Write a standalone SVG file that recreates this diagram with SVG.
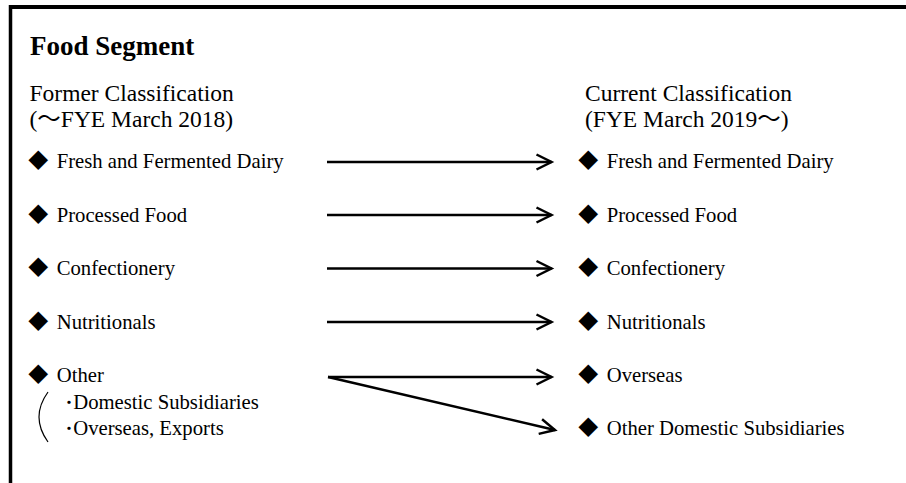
<svg xmlns="http://www.w3.org/2000/svg" width="906" height="483" viewBox="0 0 906 483">
<defs>
<style>
.t{font-family:"Liberation Serif","Noto Sans CJK JP",serif;fill:#000}
.title{font-size:27px;font-weight:bold}
.hd{font-size:23.5px}
.it{font-size:20.7px}
.dm{font-family:"Noto Sans CJK JP","DejaVu Sans",sans-serif;font-size:20px;fill:#000;text-anchor:middle}
.dot{font-family:"Noto Sans CJK JP",sans-serif;font-size:17px;font-weight:bold}
.ln{stroke:#000;stroke-width:2.5;fill:none}
</style>
<marker id="ah" viewBox="0 0 20 20" refX="17" refY="10" markerWidth="20" markerHeight="20" markerUnits="userSpaceOnUse" orient="auto">
<path d="M2 2.5 L17 10 L2 17.5" fill="none" stroke="#000" stroke-width="2.5"/>
</marker>
</defs>
<rect width="906" height="483" fill="#fff"/>
<g id="frame">
<line x1="10.5" y1="7" x2="906" y2="7" stroke="#000" stroke-width="4"/>
<line x1="10.5" y1="5" x2="10.5" y2="483" stroke="#000" stroke-width="3.5"/>
</g>
<g id="title"><text class="t title" x="30" y="54.5">Food Segment</text></g>
<g id="former-header">
<text class="t hd" x="29.5" y="101">Former Classification</text>
<text class="t hd" x="29.5" y="127">(～FYE March 2018)</text>
</g>
<g id="current-header">
<text class="t hd" x="585" y="101">Current Classification</text>
<text class="t hd" x="585" y="127">(FYE March 2019～)</text>
</g>
<g id="old-dairy"><text class="dm" x="38.3" y="168">◆</text><text class="t it" x="56.7" y="168">Fresh and Fermented Dairy</text></g>
<g id="old-processed"><text class="dm" x="38.3" y="221.5">◆</text><text class="t it" x="56.7" y="221.5">Processed Food</text></g>
<g id="old-confectionery"><text class="dm" x="38.3" y="275">◆</text><text class="t it" x="56.7" y="275">Confectionery</text></g>
<g id="old-nutritionals"><text class="dm" x="38.3" y="328.5">◆</text><text class="t it" x="56.7" y="328.5">Nutritionals</text></g>
<g id="old-other">
<text class="dm" x="38.3" y="382">◆</text><text class="t it" x="56.7" y="382">Other</text>
<path d="M48 392 Q30 417 48 442" fill="none" stroke="#000" stroke-width="1.2"/>
<text class="t it" x="64.7" y="408.5"><tspan class="dot">･</tspan>Domestic Subsidiaries</text>
<text class="t it" x="64.7" y="435"><tspan class="dot">･</tspan>Overseas, Exports</text>
</g>
<g id="new-dairy"><text class="dm" x="588.3" y="168">◆</text><text class="t it" x="606.7" y="168">Fresh and Fermented Dairy</text></g>
<g id="new-processed"><text class="dm" x="588.3" y="221.5">◆</text><text class="t it" x="606.7" y="221.5">Processed Food</text></g>
<g id="new-confectionery"><text class="dm" x="588.3" y="275">◆</text><text class="t it" x="606.7" y="275">Confectionery</text></g>
<g id="new-nutritionals"><text class="dm" x="588.3" y="328.5">◆</text><text class="t it" x="606.7" y="328.5">Nutritionals</text></g>
<g id="new-overseas"><text class="dm" x="588.3" y="382">◆</text><text class="t it" x="606.7" y="382">Overseas</text></g>
<g id="new-other-domestic"><text class="dm" x="588.3" y="435">◆</text><text class="t it" x="606.7" y="435">Other Domestic Subsidiaries</text></g>
<g id="connectors">
<line class="ln" x1="327" y1="162" x2="551.5" y2="162" marker-end="url(#ah)"/>
<line class="ln" x1="327" y1="215" x2="551.5" y2="215" marker-end="url(#ah)"/>
<line class="ln" x1="327" y1="268.5" x2="551.5" y2="268.5" marker-end="url(#ah)"/>
<line class="ln" x1="327" y1="322" x2="551.5" y2="322" marker-end="url(#ah)"/>
<line class="ln" x1="328" y1="377" x2="551.5" y2="377" marker-end="url(#ah)"/>
<line class="ln" x1="328" y1="377" x2="555" y2="430" marker-end="url(#ah)"/>
</g>
</svg>
